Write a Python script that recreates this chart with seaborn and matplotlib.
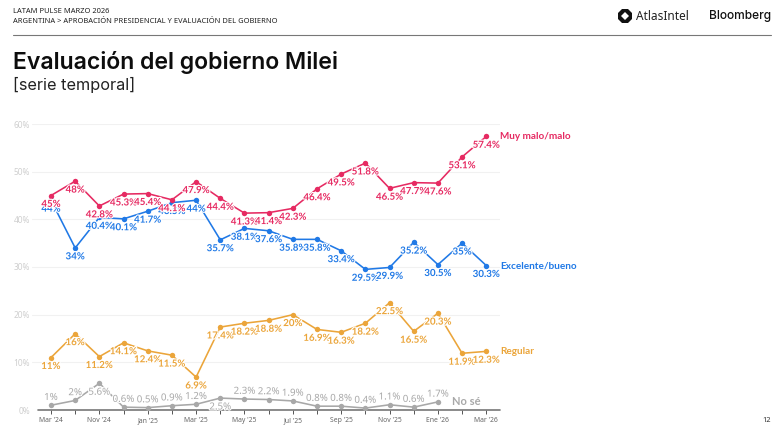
import matplotlib
matplotlib.use("Agg")
import matplotlib.pyplot as plt
import matplotlib.patheffects as pe
from matplotlib.lines import Line2D
import pandas as pd
import seaborn as sns

months = ["Mar '24", "", "Nov '24", "", "Jan '25", "", "Mar '25", "", "May '25", "",
          "Jul '25", "", "Sep '25", "", "Nov '25", "", "Ene '26", "", "Mar '26"]
excelente = [44, 34, 40.4, 40.1, 41.7, 43.5, 44, 35.7, 38.1, 37.6, 35.8, 35.8, 33.4, 29.5, 29.9, 35.2, 30.5, 35, 30.3]
malo = [45, 48, 42.8, 45.3, 45.4, 44.1, 47.9, 44.4, 41.3, 41.4, 42.3, 46.4, 49.5, 51.8, 46.5, 47.7, 47.6, 53.1, 57.4]
regular = [11, 16, 11.2, 14.1, 12.4, 11.5, 6.9, 17.4, 18.2, 18.8, 20, 16.9, 16.3, 18.2, 22.5, 16.5, 20.3, 11.9, 12.3]
nose = [1, 2, 5.6, 0.6, 0.5, 0.9, 1.2, 2.5, 2.3, 2.2, 1.9, 0.8, 0.8, 0.4, 1.1, 0.6, 1.7]
y_ticks = [0, 10, 20, 30, 40, 50, 60]
nose_below = [5.6, 2.5]

names = ["No sé", "Regular", "Excelente/bueno", "Muy malo/malo"]
values = [nose, regular, excelente, malo]
colors = {"No sé": "#A8A8A8", "Regular": "#EBA53A", "Excelente/bueno": "#2079E6", "Muy malo/malo": "#E62A62"}

df = pd.concat([pd.DataFrame({"x": range(len(v)), "y": v, "serie": n}) for n, v in zip(names, values)])

W, H = 780, 437
sns.set_theme(style="white")
FONT = ["Noto Sans", "DejaVu Sans"]
LABEL = ["Lato", "DejaVu Sans"]
HEAD = ["Inter", "DejaVu Sans"]
plt.rcParams["font.family"] = FONT
fig = plt.figure(figsize=(W / 100, H / 100), dpi=100)

# axes: 32..500 px wide, y 0% at 410 px, 60% at 124 px
ax = fig.add_axes([32 / W, 1 - 410 / H, (500 - 32) / W, (410 - 124) / H])
step = (486.3 - 51) / 18
ax.set_xlim(-(51 - 32) / step, (500 - 51) / step)
ax.set_ylim(0, 60)
ax.patch.set_alpha(0)
for s in ax.spines.values():
    s.set_visible(False)

ax.set_yticks(y_ticks)
ax.set_yticklabels([f"{t}%" for t in y_ticks], fontsize=6, color="#CFCFCF")
ax.tick_params(axis="y", length=0, pad=1.5)
ax.grid(axis="y", color="#F1F1F1", lw=0.8)
ax.set_axisbelow(True)

ax.set_xticks(range(len(months)))
ax.set_xticklabels(months, fontsize=4.9, color="#666666")
ax.tick_params(axis="x", length=3, width=0.7, color="#555555", pad=2.4, bottom=True)
ax.axhline(0, xmin=(37.7 - 32) / 468, color="#777777", lw=1.2, zorder=1.5, clip_on=False)

sns.lineplot(data=df, x="x", y="y", hue="serie", hue_order=names, palette=colors, marker="o",
             markersize=3.9, markeredgewidth=0, linewidth=1.15, legend=False, ax=ax, clip_on=False,
             errorbar=None, sort=False, zorder=3)
ax.set_xlabel("")
ax.set_ylabel("")

halo = [pe.withStroke(linewidth=1.6, foreground="white")]
for name, vals in [("No sé", nose), ("Regular", regular), ("Excelente/bueno", excelente), ("Muy malo/malo", malo)]:
    c = colors[name]
    grey = name == "No sé"
    for i, v in enumerate(vals):
        dy = 5.6 if grey and v not in nose_below else -6.4
        ax.annotate(f"{v:g}%", (i, v), xytext=(0, dy), textcoords="offset points", ha="center", va="center",
                    fontsize=7.0, color=c, family=FONT if grey else LABEL, weight="normal" if grey else "bold",
                    path_effects=halo, zorder=5, annotation_clip=False)
    ax.annotate(name, (len(vals) - 1, vals[-1]), xytext=(10.2, 0), textcoords="offset points", ha="left",
                va="center", fontsize=8.0 if grey else 7.2, color=c, family=LABEL, weight="bold",
                zorder=5, annotation_clip=False)

def px_text(x, y, s, **kw):
    fig.text(x / W, 1 - y / H, s, **kw)

px_text(13, 11.5, "LATAM PULSE MARZO 2026", fontsize=5.4, color="#222222", va="center")
px_text(13, 21.5, "ARGENTINA > APROBACIÓN PRESIDENCIAL Y EVALUACIÓN DEL GOBIERNO", fontsize=5.4, color="#222222", va="center")
fig.add_artist(Line2D([13 / W, 771 / W], [1 - 35 / H] * 2, color="#777777", lw=0.8))
px_text(13, 62, "Evaluación del gobierno Milei", fontsize=16.6, weight="semibold", color="#0D0D0D", va="center",
        family=HEAD)
px_text(13, 84.5, "[serie temporal]", fontsize=11.7, color="#222222", va="center", family=HEAD)
px_text(636, 16, "AtlasIntel", fontsize=8.5, color="#222222", va="center")
px_text(708.5, 16, "Bloomberg", fontsize=8.6, weight="medium", color="#111111", va="center", family=HEAD)
px_text(762, 420, "12", fontsize=5.4, color="#333333", va="center")
fig.add_artist(Line2D([625 / W], [1 - 16 / H], marker="8", ms=10.5, color="#111111", mew=0))
fig.add_artist(Line2D([625 / W], [1 - 16 / H], marker="D", ms=3.8, color="white", mew=0))

fig.savefig("out.png", dpi=100)
